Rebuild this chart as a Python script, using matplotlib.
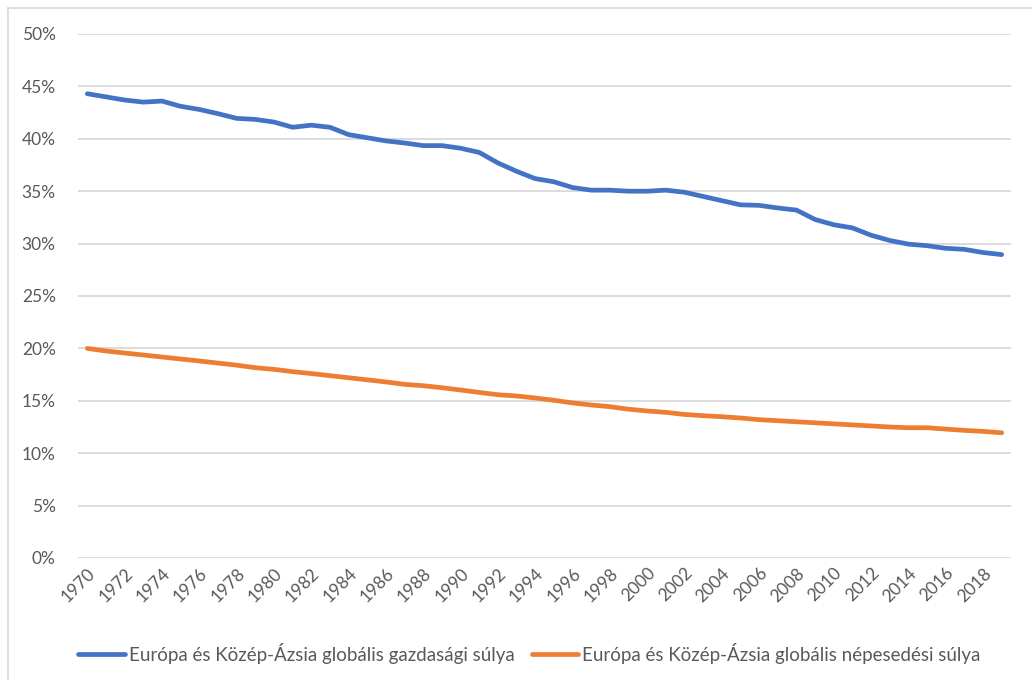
import matplotlib
matplotlib.use("Agg")
import matplotlib.pyplot as plt
from matplotlib.lines import Line2D
from matplotlib.ticker import FuncFormatter

plt.rcParams['font.family'] = ['Lato', 'DejaVu Sans']

years = list(range(1970, 2020))

# gazdasagi suly (%)
economic = [44.3, 44.0, 43.7, 43.5, 43.6, 43.1, 42.8, 42.4, 41.95, 41.85,
            41.6, 41.1, 41.3, 41.1, 40.4, 40.1, 39.8, 39.6, 39.35, 39.35,
            39.1, 38.7, 37.7, 36.9, 36.2, 35.9, 35.35, 35.1, 35.1, 35.0,
            35.0, 35.1, 34.9, 34.5, 34.1, 33.7, 33.65, 33.4, 33.2, 32.3,
            31.8, 31.5, 30.8, 30.3, 29.95, 29.8, 29.55, 29.45, 29.15, 28.95]

# nepesedesi suly (%)
population = [20.0, 19.75, 19.56, 19.37, 19.18, 18.99, 18.8, 18.6, 18.4, 18.16,
              18.0, 17.78, 17.6, 17.4, 17.2, 17.0, 16.8, 16.57, 16.44, 16.25,
              16.03, 15.8, 15.58, 15.46, 15.27, 15.05, 14.8, 14.6, 14.44, 14.2,
              14.03, 13.9, 13.7, 13.58, 13.48, 13.36, 13.2, 13.1, 13.0, 12.9,
              12.8, 12.7, 12.6, 12.5, 12.43, 12.43, 12.3, 12.18, 12.08, 11.95]

labels = ["Európa és Közép-Ázsia globális gazdasági súlya",
          "Európa és Közép-Ázsia globális népesedési súlya"]

text_col = '#595959'

fig = plt.figure(figsize=(10.32, 6.8), dpi=100)
ax = fig.add_axes([78 / 1032, 1 - 558 / 680, 933 / 1032, 524 / 680])

x = list(range(len(years)))
ax.plot(x, economic, color='#4472C4', lw=3.4, solid_capstyle='round', label=labels[0])
ax.plot(x, population, color='#ED7D31', lw=3.4, solid_capstyle='round', label=labels[1])

ax.set_xlim(-0.5, len(years) - 0.5)
ax.set_ylim(0, 50)
ax.set_yticks(range(0, 51, 5))
ax.yaxis.set_major_formatter(FuncFormatter(lambda v, p: f"{int(v)}%"))
ax.set_xticks(x[::2])
ax.set_xticklabels([str(y) for y in years[::2]], rotation=45, ha='right',
                   rotation_mode='anchor')

ax.grid(axis='y', color='#D9D9D9', lw=1.3)
ax.set_axisbelow(True)
for s in ax.spines.values():
    s.set_visible(False)
ax.tick_params(axis='both', length=0, colors=text_col, labelsize=12.5)
ax.tick_params(axis='y', pad=16)
ax.tick_params(axis='x', pad=5)

fig.legend(loc='center', bbox_to_anchor=(0.513, 1 - 653 / 680), ncol=2,
           frameon=False, fontsize=13.5, labelcolor=text_col, handlelength=2.5,
           handletextpad=0.2, columnspacing=0.9)

# chart border
fig.add_artist(Line2D([8 / 1032, 8 / 1032], [0, 1 - 8 / 680], color='#D9D9D9', lw=1.2))
fig.add_artist(Line2D([8 / 1032, 1], [1 - 8 / 680, 1 - 8 / 680], color='#D9D9D9', lw=1.2))

fig.savefig('out.png', dpi=100)
